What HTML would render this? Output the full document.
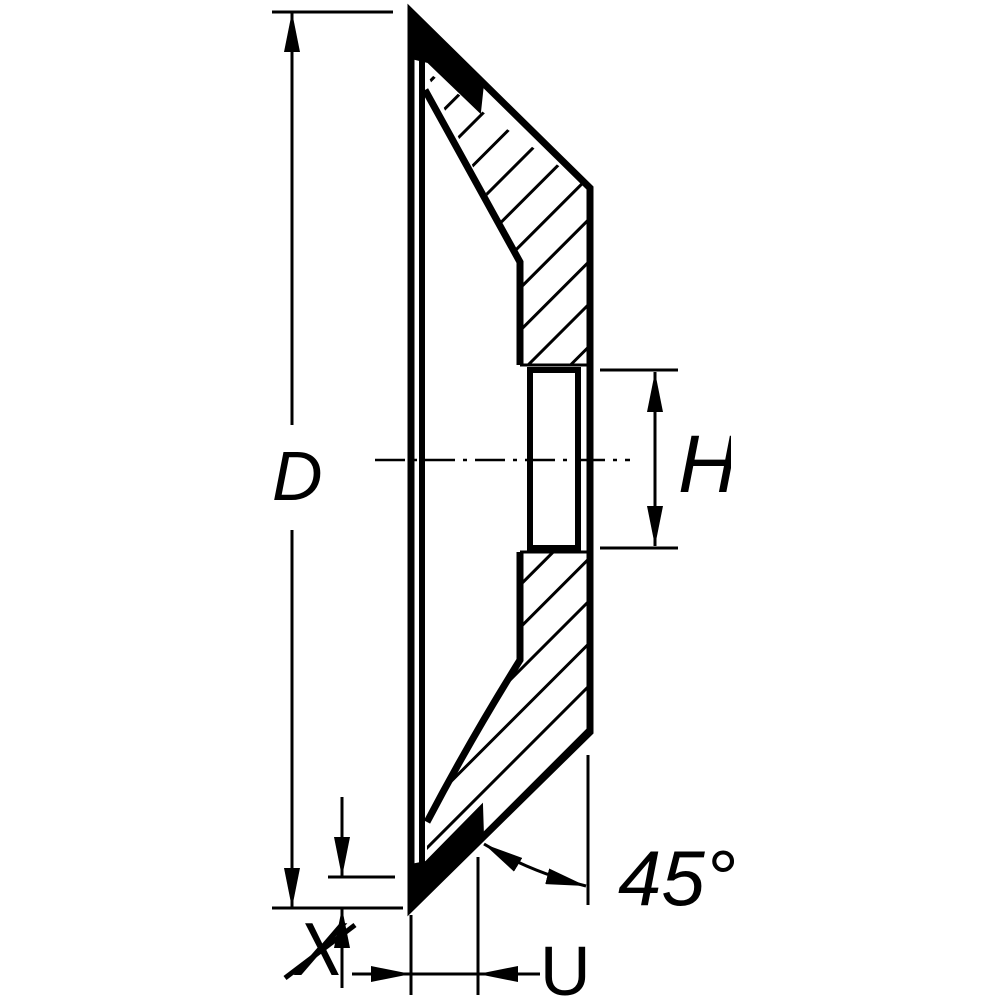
<!DOCTYPE html>
<html><head><style>body{margin:0;background:#fff}svg{display:block}</style></head><body>
<svg width="1000" height="1000" viewBox="0 0 1000 1000" xmlns="http://www.w3.org/2000/svg">
<defs>
<pattern id="h" patternUnits="userSpaceOnUse" width="30" height="30" patternTransform="rotate(45)">
<line x1="0" y1="0" x2="0" y2="30" stroke="#000" stroke-width="6"/>
</pattern>
<marker id="a" viewBox="0 0 40 16" refX="40" refY="8" markerWidth="40" markerHeight="16" markerUnits="userSpaceOnUse" orient="auto-start-reverse"><path d="M0,0 L40,8 L0,16z"/></marker>
</defs>
<g stroke="#000" fill="none">
<path d="M425,70 L483,112 L590,188 L590,365 L520,365 L520,262 Z" fill="url(#h)" stroke="none"/>
<path d="M520,552 L590,552 L590,732 L483,835 L427,850 L427,820 L520,660 Z" fill="url(#h)" stroke="none"/>
<path d="M411,12 L590,188 L590,732 L411,908 Z" stroke-width="7"/>
<line x1="422" y1="55" x2="422" y2="865" stroke-width="6"/>
<path d="M425,90 L520,262 L520,365 M520,552 L520,660 Q470,740 427,822" stroke-width="7"/>
<rect x="530" y="370" width="48" height="178" stroke-width="6" fill="#fff"/>
<line x1="520" y1="365" x2="590" y2="365" stroke-width="3"/>
<line x1="520" y1="552" x2="590" y2="552" stroke-width="3"/>
<path d="M411,12 L483,84 L480,112 L428,62 L411,58 Z" fill="#000" stroke-width="2"/>
<path d="M411,908 L483,836 L482,805 L426,862 L411,865 Z" fill="#000" stroke-width="2"/>
<line x1="375" y1="460" x2="630" y2="460" stroke-width="2.5" stroke-dasharray="30,8,4,8"/>
<line x1="272" y1="12" x2="393" y2="12" stroke-width="3"/>
<line x1="272" y1="908" x2="403" y2="908" stroke-width="3"/>
<line x1="292" y1="425" x2="292" y2="12" stroke-width="3" marker-end="url(#a)"/>
<line x1="292" y1="530" x2="292" y2="908" stroke-width="3" marker-end="url(#a)"/>
<line x1="600" y1="370" x2="678" y2="370" stroke-width="3"/>
<line x1="600" y1="548" x2="678" y2="548" stroke-width="3"/>
<line x1="655" y1="460" x2="655" y2="372" stroke-width="3" marker-end="url(#a)"/>
<line x1="655" y1="460" x2="655" y2="546" stroke-width="3" marker-end="url(#a)"/>
<line x1="328" y1="877" x2="395" y2="877" stroke-width="3"/>
<line x1="342" y1="797" x2="342" y2="877" stroke-width="3" marker-end="url(#a)"/>
<line x1="342" y1="988" x2="342" y2="908" stroke-width="3" marker-end="url(#a)"/>
<line x1="411" y1="915" x2="411" y2="995" stroke-width="3"/>
<line x1="478" y1="857" x2="478" y2="995" stroke-width="3"/>
<line x1="352" y1="974" x2="411" y2="974" stroke-width="3" marker-end="url(#a)"/>
<line x1="540" y1="974" x2="478" y2="974" stroke-width="3" marker-end="url(#a)"/>
<line x1="411" y1="974" x2="478" y2="974" stroke-width="3"/>
<line x1="588" y1="755" x2="588" y2="905" stroke-width="3"/>
<path d="M484,844 Q530,872 586,886" stroke-width="3" marker-start="url(#a)" marker-end="url(#a)"/>
</g>
<g font-family="Liberation Sans, sans-serif" font-style="italic" fill="#000">
<text x="272" y="500" font-size="70">D</text>
<text x="678" y="492" font-size="82">H</text>
<text x="618" y="905" font-size="78">45°</text>
<text x="295" y="975" font-size="75">X</text>
</g>
<line x1="285" y1="978" x2="355" y2="925" stroke="#000" stroke-width="5"/>
<text x="540" y="995" font-family="Liberation Sans, sans-serif" font-size="70">U</text>
<rect x="731" y="400" width="269" height="120" fill="#fff"/>
<rect x="734" y="830" width="266" height="90" fill="#fff"/>
</svg>
</body></html>
